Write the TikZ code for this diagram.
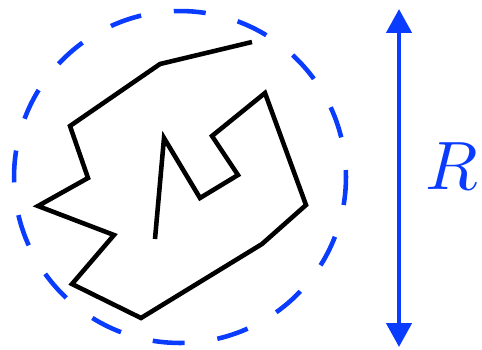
\documentclass[tikz,border=0pt]{standalone}
\usepackage{amsmath}
\usetikzlibrary{
    arrows.meta,
    positioning,
    calc
}
\definecolor{rblue}{RGB}{10,60,255}
\tikzset{
    % --- Chain segments (random walk) ---
    chain/.style = {
        draw=black, line width=2.6pt, line join=miter
    },
    % --- Dashed bounding circle ---
    bound circle/.style = {
        draw=rblue, line width=2.6pt,
        dash pattern=on 0.64cm off 0.66cm, dash phase=0.5cm
    },
    % --- Size arrow ---
    size arrow/.style = {
        {Triangle[length=0.48cm, width=0.5cm]}-{Triangle[length=0.48cm, width=0.5cm]},
        draw=rblue, line width=2.6pt
    },
    % --- Size label ---
    size label/.style = {
        text=rblue, scale=3.9, inner sep=0pt
    }
}

\begin{document}
\begin{tikzpicture}[x=0.02cm, y=-0.02cm]

\useasboundingbox (0, 0) rectangle (482, 349);

% ---------------------------------------------------------
% Bounding circle
% ---------------------------------------------------------
\coordinate (center) at (180, 177);
\draw[bound circle] (center) circle[radius=3.32cm];

% ---------------------------------------------------------
% Chain
% ---------------------------------------------------------
\draw[chain] (252, 42) -- (160, 64) -- (70, 126) -- (88, 178)
    -- (38, 206) -- (114, 235) -- (72, 284) -- (141, 318)
    -- (262, 244) -- (306, 205) -- (265, 93) -- (212, 136)
    -- (238, 175) -- (200, 198) -- (164, 138) -- (155, 239);

% ---------------------------------------------------------
% Size arrow and label
% ---------------------------------------------------------
\coordinate (top) at (399, 9);
\coordinate (bottom) at (399, 347);
\draw[size arrow] (top) -- (bottom);
\node[size label] (R) at (452, 166) {$R$};

\end{tikzpicture}
\end{document}
